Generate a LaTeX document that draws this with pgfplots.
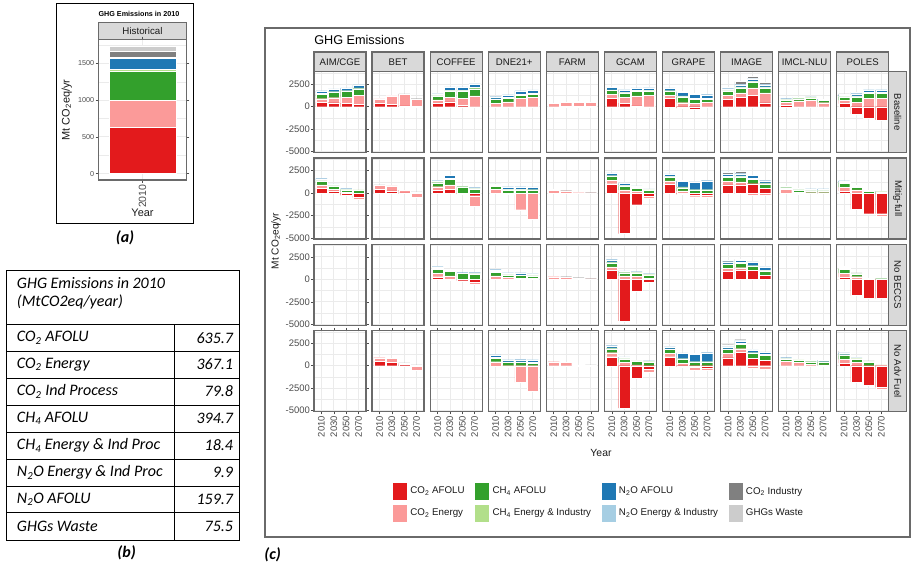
\documentclass[border=0pt]{standalone}
\usepackage{pgfplots}
\pgfplotsset{compat=1.18}
\usepackage{pgfplotstable}
\usepackage{fontspec}
\setmainfont{Liberation Sans}
\newfontfamily\carlito{Carlito}
\newdimen\pxu \pxu=0.75pt
\newcommand\fsz[1]{\fontsize{#1}{#1}\selectfont}
\definecolor{cA}{HTML}{E31A1C}
\definecolor{cB}{HTML}{FB9A99}
\definecolor{cC}{HTML}{33A02C}
\definecolor{cD}{HTML}{B2DF8A}
\definecolor{cE}{HTML}{1F78B4}
\definecolor{cF}{HTML}{A6CEE3}
\definecolor{cG}{HTML}{808080}
\definecolor{cH}{HTML}{CCCCCC}
\definecolor{gridc}{HTML}{EBEBEB}
\definecolor{bordc}{HTML}{6A6A6A}
\definecolor{stripc}{HTML}{D9D9D9}
\definecolor{tickc}{HTML}{4D4D4D}
\definecolor{textc}{HTML}{1A1A1A}

% columns: a CO2 AFOLU, b CO2 Energy, c CH4 AFOLU, d CH4 En&Ind, e N2O AFOLU, f N2O En&Ind, g CO2 Industry, h GHGs Waste
\pgfplotstableread{
x a b c d e f g h
0 500 400 500 80 250 50 0 0
1 450 550 600 80 250 50 0 0
2 400 650 650 80 250 50 0 0
3 300 950 750 80 300 60 0 0
}\AIMb
\pgfplotstableread{
x a b c d e f g h
0 550 350 450 50 200 50 0 0
1 250 150 400 50 150 30 0 0
2 -250 100 250 50 80 20 0 0
3 -500 -150 300 50 0 0 0 0
}\AIMm
\pgfplotstableread{
x a b c d e f g h
0 400 480 0 0 0 0 30 0
1 280 920 0 0 0 0 60 0
2 100 1250 0 0 0 0 70 0
3 20 800 0 0 0 0 80 0
}\BETb
\pgfplotstableread{
x a b c d e f g h
0 400 480 0 0 0 0 30 0
1 250 550 0 0 0 0 50 0
2 30 250 0 0 0 0 30 0
3 0 -500 0 0 0 0 120 0
}\BETm
\pgfplotstableread{
x a b c d e f g h
0 500 400 0 0 0 0 30 0
1 350 450 0 0 0 0 50 0
2 150 150 0 0 0 0 20 0
3 0 -500 0 0 0 0 100 0
}\BETa
\pgfplotstableread{
x a b c d e f g h
0 350 400 450 80 150 30 0 0
1 550 500 700 100 300 50 0 0
2 150 800 800 100 300 50 0 0
3 0 1200 800 150 400 50 100 0
}\COFb
\pgfplotstableread{
x a b c d e f g h
0 300 400 450 50 150 30 50 0
1 400 500 650 100 300 50 0 0
2 -120 0 700 50 0 0 0 0
3 -300 -1150 450 50 100 20 0 0
}\COFm
\pgfplotstableread{
x a b c d e f g h
0 300 400 450 80 150 30 30 0
1 -100 400 500 80 120 30 0 0
2 -150 -50 650 50 50 0 0 0
3 -300 -250 600 50 100 20 0 0
}\COFn
\pgfplotstableread{
x a b c d e f g h
0 0 400 400 80 200 40 0 0
1 0 550 400 80 250 50 0 0
2 0 950 350 80 350 50 0 0
3 0 1050 350 80 350 50 0 0
}\DNEb
\pgfplotstableread{
x a b c d e f g h
0 0 400 350 80 150 50 0 0
1 0 -150 350 80 220 50 0 0
2 0 -1850 350 80 230 50 0 0
3 0 -2900 300 80 250 50 0 0
}\DNEm
\pgfplotstableread{
x a b c d e f g h
0 0 400 400 80 200 50 0 0
1 0 200 300 50 150 50 0 0
2 0 150 300 50 200 50 0 0
3 0 100 300 50 150 50 0 0
}\DNEn
\pgfplotstableread{
x a b c d e f g h
0 0 450 400 80 250 50 0 0
1 0 -150 350 80 200 50 0 0
2 0 -1850 350 80 250 50 0 0
3 0 -2850 300 80 250 50 0 0
}\DNEa
\pgfplotstableread{
x a b c d e f g h
0 0 380 0 0 0 0 0 0
1 40 420 0 0 0 0 0 0
2 40 460 0 0 0 0 80 0
3 40 440 0 0 0 0 0 0
}\FARMb
\pgfplotstableread{
x a b c d e f g h
0 0 330 0 0 0 0 60 0
1 0 250 0 0 0 0 20 0
2 0 50 0 0 0 0 20 0
3 0 30 0 0 0 0 20 0
}\FARMm
\pgfplotstableread{
x a b c d e f g h
0 0 300 0 0 0 0 60 0
1 0 250 0 0 0 0 50 0
2 0 150 0 0 0 0 40 0
3 0 50 0 0 0 0 20 0
}\FARMn
\pgfplotstableread{
x a b c d e f g h
0 0 450 0 0 0 0 0 0
1 0 400 0 0 0 0 0 0
2 0 30 0 0 0 0 40 0
3 0 50 0 0 0 0 30 0
}\FARMa
\pgfplotstableread{
x a b c d e f g h
0 950 400 450 80 250 40 0 0
1 400 650 500 80 250 40 0 0
2 100 1100 500 100 250 40 0 0
3 0 1250 500 100 250 40 0 0
}\GCAMb
\pgfplotstableread{
x a b c d e f g h
0 1050 350 450 80 250 50 0 0
1 -4500 350 450 80 200 50 0 0
2 -1300 200 350 80 120 50 0 0
3 -350 -250 300 50 80 30 0 0
}\GCAMm
\pgfplotstableread{
x a b c d e f g h
0 1000 400 450 80 250 50 0 0
1 -4600 400 350 50 100 30 0 0
2 -1300 350 350 50 80 30 0 0
3 -300 150 300 80 80 30 0 0
}\GCAMn
\pgfplotstableread{
x a b c d e f g h
0 1000 450 450 80 250 50 0 0
1 -4700 350 400 50 150 30 0 0
2 -1400 100 400 50 80 0 0 0
3 -350 -400 400 50 80 20 0 0
}\GCAMa
\pgfplotstableread{
x a b c d e f g h
0 950 350 400 80 250 50 0 0
1 -150 450 650 100 400 100 0 0
2 -250 350 500 80 450 100 0 0
3 0 500 350 80 400 80 0 0
}\GRAPEb
\pgfplotstableread{
x a b c d e f g h
0 1000 350 450 80 200 50 0 0
1 -150 250 350 80 650 60 0 0
2 -250 -150 300 80 850 50 0 0
3 -250 -250 300 80 1000 50 0 0
}\GRAPEm
\pgfplotstableread{
x a b c d e f g h
0 1000 400 400 80 200 50 0 0
1 -100 300 400 80 600 50 0 0
2 -200 -250 400 50 850 50 0 0
3 -250 -250 400 50 1000 50 0 0
}\GRAPEa
\pgfplotstableread{
x a b c d e f g h
0 850 400 500 60 200 40 100 0
1 1050 500 550 100 250 50 300 0
2 1250 850 650 100 250 50 250 0
3 450 1100 550 100 250 50 200 0
}\IMAGEb
\pgfplotstableread{
x a b c d e f g h
0 900 400 450 80 250 50 150 0
1 900 350 550 100 250 50 200 0
2 1050 -250 500 100 300 50 0 0
3 550 -250 500 80 250 50 0 0
}\IMAGEm
\pgfplotstableread{
x a b c d e f g h
0 900 300 450 80 200 40 150 0
1 1000 300 500 100 200 40 100 0
2 1000 0 450 80 400 50 0 0
3 450 0 500 80 350 50 0 0
}\IMAGEn
\pgfplotstableread{
x a b c d e f g h
0 900 450 450 80 200 50 200 0
1 1500 400 500 100 250 50 100 0
2 800 -250 550 100 250 50 50 0
3 600 -350 550 100 250 50 0 0
}\IMAGEa
\pgfplotstableread{
x a b c d e f g h
0 200 300 250 50 100 0 0 0
1 0 650 250 50 100 0 0 0
2 0 700 250 50 100 0 0 0
3 0 450 250 30 100 0 0 0
}\IMCLb
\pgfplotstableread{
x a b c d e f g h
0 0 400 200 50 100 0 0 0
1 -100 100 250 50 100 0 0 0
2 0 50 200 50 150 0 0 0
3 0 50 200 50 150 0 0 0
}\IMCLm
\pgfplotstableread{
x a b c d e f g h
0 0 500 250 50 100 0 0 0
1 0 350 250 50 80 0 0 0
2 0 150 300 50 100 0 0 0
3 0 100 300 50 150 0 0 0
}\IMCLa
\pgfplotstableread{
x a b c d e f g h
0 350 350 400 50 150 50 80 0
1 -800 500 600 100 250 50 100 0
2 -1300 950 550 100 250 50 0 0
3 -1450 950 550 100 250 50 0 0
}\POLESb
\pgfplotstableread{
x a b c d e f g h
0 250 400 450 80 150 50 0 0
1 -1800 350 300 80 100 40 0 0
2 -2300 0 200 80 0 0 0 0
3 -2300 -300 100 50 50 20 0 0
}\POLESm
\pgfplotstableread{
x a b c d e f g h
0 250 450 450 80 150 50 0 0
1 -1800 300 300 80 0 0 50 0
2 -2050 0 100 0 0 0 30 0
3 -2100 0 80 0 0 0 30 0
}\POLESn
\pgfplotstableread{
x a b c d e f g h
0 300 400 450 80 200 50 100 0
1 -1800 350 350 80 100 40 30 0
2 -2200 0 350 80 0 0 100 0
3 -2400 -200 50 50 0 0 0 0
}\POLESa

% pgfplots stacks negative and positive parts separately
\newcommand\segN[3]{\addplot[fill=#2,draw=white,line width=0.15\pxu,forget plot] table[x=x,y expr={min(\thisrow{#3},0)}]{#1};}
\newcommand\segP[3]{\addplot[fill=#2,draw=white,line width=0.15\pxu,forget plot] table[x=x,y expr={max(\thisrow{#3},0)}]{#1};}
\newcommand\bars[1]{%
\segN{#1}{cA}{a}\segN{#1}{cB}{b}\segN{#1}{cC}{c}\segN{#1}{cD}{d}%
\segN{#1}{cE}{e}\segN{#1}{cF}{f}\segN{#1}{cG}{g}\segN{#1}{cH}{h}%
\segP{#1}{cA}{a}\segP{#1}{cB}{b}\segP{#1}{cC}{c}\segP{#1}{cD}{d}%
\segP{#1}{cE}{e}\segP{#1}{cF}{f}\segP{#1}{cG}{g}\segP{#1}{cH}{h}}

\pgfplotsset{
  facet/.style={scale only axis, anchor=north west, width=52\pxu, height=81\pxu,
    xmin=-0.6, xmax=3.6, ymin=-5111, ymax=3889,
    ybar stacked, bar width=0.9,
    xtick={0,1,2,3}, ytick={-5000,-2500,0,2500},
    minor ytick={-3750,-1250,1250,3750},
    xticklabels={}, yticklabels={},
    grid=both,
    major grid style={draw=gridc, line width=0.9\pxu},
    minor grid style={draw=gridc, line width=0.45\pxu},
    tick align=outside, major tick length=2.7\pxu, minor tick length=0pt,
    xtick style={draw=none}, ytick style={draw=none},
    axis line style={draw=bordc, line width=1.3\pxu}},
  ylab/.style={yticklabels={-5000,-2500,0,2500},
    ytick style={draw=tickc, line width=0.6\pxu},
    y tick label style={font=\fsz{7.1}, text=tickc, inner sep=1.2\pxu}},
  xlab/.style={xticklabels={2010,2030,2050,2070},
    xtick style={draw=tickc, line width=0.6\pxu},
    x tick label style={rotate=90, anchor=east, font=\fsz{7.1}, text=tickc, inner sep=1.5\pxu}},
}
\newcommand\facet[4]{%
\begin{axis}[facet,at={({0.75pt*(314+58.08*#1)},{-0.75pt*(71.7+86.33*#2)})},#4]
#3
\end{axis}}

\begin{document}
\begin{tikzpicture}[x=0.75pt,y=-0.75pt]
\useasboundingbox (0,0) rectangle (911,565);
\fill[white] (0,0) rectangle (911,565);

% ---------------- (a) ----------------
\draw[black, line width=1\pxu] (56,3.3) rectangle (193,223);
\node[anchor=west, font=\bfseries\fsz{5.4}, inner sep=0] at (98.3,14) {GHG Emissions in 2010};
\draw[fill=stripc, draw=bordc, line width=1.1\pxu] (98.3,22.7) rectangle (186.7,39.3);
\node[font=\fsz{7.3}, text=textc] at (142.5,31) {Historical};
\begin{axis}[scale only axis, anchor=north west, at={(73.725pt,-29.475pt)}, width=88.4\pxu, height=140.7\pxu,
  xmin=0.4, xmax=1.6, ymin=-87.04, ymax=1827.84, ybar stacked, bar width=0.9,
  xtick={1}, xticklabels={2010}, ytick={0,500,1000,1500}, yticklabels={0,500,1000,1500},
  minor ytick={250,750,1250,1750}, grid=both,
  major grid style={draw=gridc, line width=0.9\pxu},
  minor grid style={draw=gridc, line width=0.45\pxu},
  tick align=outside, major tick length=2.7\pxu, minor tick length=0pt,
  tick style={draw=tickc, line width=0.6\pxu},
  axis line style={draw=bordc, line width=1.1\pxu},
  x tick label style={rotate=90, anchor=east, font=\fsz{7.9}, text=tickc, inner sep=1.5\pxu},
  y tick label style={font=\fsz{5.4}, text=tickc, inner sep=1.2\pxu}]
\addplot[fill=cA,draw=white,line width=0.3\pxu] coordinates {(1,635.7)};
\addplot[fill=cB,draw=white,line width=0.3\pxu] coordinates {(1,367.1)};
\addplot[fill=cC,draw=white,line width=0.3\pxu] coordinates {(1,394.7)};
\addplot[fill=cD,draw=white,line width=0.3\pxu] coordinates {(1,18.4)};
\addplot[fill=cE,draw=white,line width=0.3\pxu] coordinates {(1,159.7)};
\addplot[fill=cF,draw=white,line width=0.3\pxu] coordinates {(1,9.9)};
\addplot[fill=cG,draw=white,line width=0.3\pxu] coordinates {(1,79.8)};
\addplot[fill=cH,draw=white,line width=0.3\pxu] coordinates {(1,75.5)};
\end{axis}
\node[rotate=90, font=\fsz{8.2}, text=textc] at (66.7,110) {Mt CO\textsubscript{2}eq/yr};
\node[font=\fsz{8.2}, text=textc] at (142.5,213) {Year};
\node[font=\carlito\bfseries\itshape\fsz{12}] at (125,238) {(a)};

% ---------------- (b) table ----------------
\begin{scope}[line width=1\pxu]
\draw (6.7,270.7) rectangle (239.3,540);
\foreach \yy in {324.3,351,378,405,432,459,486,512.7} \draw (6.7,\yy) -- (239.3,\yy);
\draw (174.3,324.3) -- (174.3,540);
\end{scope}
\begin{scope}[every node/.style={font=\carlito\itshape\fsz{12}, inner sep=0}]
\node[anchor=west] at (16.7,283.3) {GHG Emissions in 2010};
\node[anchor=west] at (16.7,301.7) {(MtCO2eq/year)};
\node[anchor=west] at (16.7,337.7) {CO\textsubscript{2} AFOLU};
\node[anchor=west] at (16.7,364.5) {CO\textsubscript{2} Energy};
\node[anchor=west] at (16.7,391.5) {CO\textsubscript{2} Ind Process};
\node[anchor=west] at (16.7,418.5) {CH\textsubscript{4} AFOLU};
\node[anchor=west] at (16.7,445.5) {CH\textsubscript{4} Energy \& Ind Proc};
\node[anchor=west] at (16.7,472.5) {N\textsubscript{2}O Energy \& Ind Proc};
\node[anchor=west] at (16.7,499.3) {N\textsubscript{2}O AFOLU};
\node[anchor=west] at (16.7,526.3) {GHGs Waste};
\node[anchor=east] at (233.3,337.7) {635.7};
\node[anchor=east] at (233.3,364.5) {367.1};
\node[anchor=east] at (233.3,391.5) {79.8};
\node[anchor=east] at (233.3,418.5) {394.7};
\node[anchor=east] at (233.3,445.5) {18.4};
\node[anchor=east] at (233.3,472.5) {9.9};
\node[anchor=east] at (233.3,499.3) {159.7};
\node[anchor=east] at (233.3,526.3) {75.5};
\end{scope}
\node[font=\carlito\bfseries\itshape\fsz{12}] at (126.7,553) {(b)};

% ---------------- (c) ----------------
\draw[draw=bordc, line width=1.5\pxu] (265,28) rectangle (910,537);
\node[anchor=west, font=\fsz{9.5}, inner sep=0] at (314,40) {GHG Emissions};

% row 0 Baseline
\facet{0}{0}{\bars{\AIMb}}{ylab}
\facet{1}{0}{\bars{\BETb}}{}
\facet{2}{0}{\bars{\COFb}}{}
\facet{3}{0}{\bars{\DNEb}}{}
\facet{4}{0}{\bars{\FARMb}}{}
\facet{5}{0}{\bars{\GCAMb}}{}
\facet{6}{0}{\bars{\GRAPEb}}{}
\facet{7}{0}{\bars{\IMAGEb}}{}
\facet{8}{0}{\bars{\IMCLb}}{}
\facet{9}{0}{\bars{\POLESb}}{}
% row 1 Mitig-full
\facet{0}{1}{\bars{\AIMm}}{ylab}
\facet{1}{1}{\bars{\BETm}}{}
\facet{2}{1}{\bars{\COFm}}{}
\facet{3}{1}{\bars{\DNEm}}{}
\facet{4}{1}{\bars{\FARMm}}{}
\facet{5}{1}{\bars{\GCAMm}}{}
\facet{6}{1}{\bars{\GRAPEm}}{}
\facet{7}{1}{\bars{\IMAGEm}}{}
\facet{8}{1}{\bars{\IMCLm}}{}
\facet{9}{1}{\bars{\POLESm}}{}
% row 2 No BECCS
\facet{0}{2}{}{ylab}
\facet{1}{2}{}{}
\facet{2}{2}{\bars{\COFn}}{}
\facet{3}{2}{\bars{\DNEn}}{}
\facet{4}{2}{\bars{\FARMn}}{}
\facet{5}{2}{\bars{\GCAMn}}{}
\facet{6}{2}{}{}
\facet{7}{2}{\bars{\IMAGEn}}{}
\facet{8}{2}{}{}
\facet{9}{2}{\bars{\POLESn}}{}
% row 3 No Adv Fuel
\facet{0}{3}{}{ylab,xlab}
\facet{1}{3}{\bars{\BETa}}{xlab}
\facet{2}{3}{}{xlab}
\facet{3}{3}{\bars{\DNEa}}{xlab}
\facet{4}{3}{\bars{\FARMa}}{xlab}
\facet{5}{3}{\bars{\GCAMa}}{xlab}
\facet{6}{3}{\bars{\GRAPEa}}{xlab}
\facet{7}{3}{\bars{\IMAGEa}}{xlab}
\facet{8}{3}{\bars{\IMCLa}}{xlab}
\facet{9}{3}{\bars{\POLESa}}{xlab}

% strips
\foreach \name [count=\i from 0] in {{AIM/CGE},BET,COFFEE,{DNE21+},FARM,GCAM,GRAPE,IMAGE,{IMCL-NLU},POLES}{
  \draw[fill=stripc, draw=bordc, line width=1.3\pxu] ({314+58.08*\i},52) rectangle ({366+58.08*\i},71.7);
  \node[font=\fsz{7.2}, text=textc] at ({340+58.08*\i},62) {\name};
}
\foreach \name [count=\j from 0] in {Baseline,{Mitig-full},{No BECCS},{No Adv Fuel}}{
  \draw[fill=stripc, draw=bordc, line width=1.3\pxu] (888.7,{71.7+86.33*\j}) rectangle (906.7,{152.7+86.33*\j});
  \node[rotate=-90, font=\fsz{7.2}, text=textc] at (897.7,{112.2+86.33*\j}) {\name};
}
\node[rotate=90, font=\fsz{7.6}, text=textc] at (276,241) {Mt CO\textsubscript{2}eq/yr};
\node[font=\fsz{7.8}, text=textc] at (601,453) {Year};

% legend
\begin{axis}[at={(294pt,-361.5pt)}, anchor=north west, scale only axis, width=1pt, height=1pt,
  hide axis, xmin=0, xmax=1, ymin=0, ymax=1,
  legend columns=4, legend cell align=left,
  legend style={at={(0,1)}, anchor=north west, draw=none, fill=none, inner sep=0pt,
    font=\fsz{7.3}, text=textc, row sep=3\pxu,
    /tikz/every even column/.append style={column sep=7\pxu}},
  legend image code/.code={\draw[#1] (0pt,-6.75pt) rectangle (11.25pt,6.75pt);}]
\addlegendimage{fill=cA,draw=white}\addlegendentry{CO\textsubscript{2} AFOLU}
\addlegendimage{fill=cC,draw=white}\addlegendentry{CH\textsubscript{4} AFOLU}
\addlegendimage{fill=cE,draw=white}\addlegendentry{N\textsubscript{2}O AFOLU}
\addlegendimage{fill=cG,draw=white}\addlegendentry{CO\textsubscript{2} Industry}
\addlegendimage{fill=cB,draw=white}\addlegendentry{CO\textsubscript{2} Energy}
\addlegendimage{fill=cD,draw=white}\addlegendentry{CH\textsubscript{4} Energy \& Industry}
\addlegendimage{fill=cF,draw=white}\addlegendentry{N\textsubscript{2}O Energy \& Industry}
\addlegendimage{fill=cH,draw=white}\addlegendentry{GHGs Waste}
\end{axis}
\node[font=\carlito\bfseries\itshape\fsz{12}] at (272.6,555) {(c)};
\end{tikzpicture}
\end{document}
